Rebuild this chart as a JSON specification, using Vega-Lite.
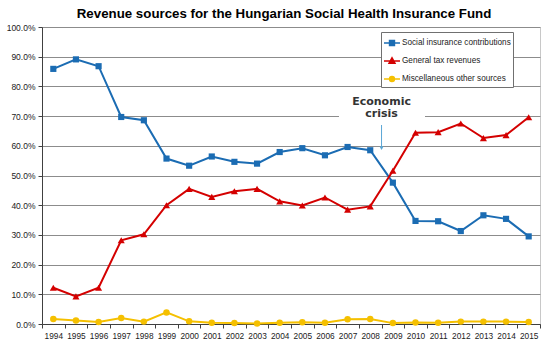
{
  "$schema": "https://vega.github.io/schema/vega-lite/v6.json",
  "width": 498,
  "height": 297,
  "autosize": "none",
  "padding": {"left": 42, "top": 27, "right": 10, "bottom": 26},
  "background": "white",
  "config": {
    "font": "Liberation Sans",
    "view": {"stroke": "#c8c8c8", "strokeWidth": 1}
  },
  "title": {
    "text": "Revenue sources for the Hungarian Social Health Insurance Fund",
    "font": "Liberation Sans",
    "fontSize": 13.3,
    "fontWeight": "bold",
    "color": "#000000",
    "anchor": "middle",
    "offset": 3,
    "dx": -7
  },
  "datasets": {
    "series": [
      {"year": 1994, "series": "Social insurance contributions", "value": 0.859},
      {"year": 1995, "series": "Social insurance contributions", "value": 0.891},
      {"year": 1996, "series": "Social insurance contributions", "value": 0.868},
      {"year": 1997, "series": "Social insurance contributions", "value": 0.697},
      {"year": 1998, "series": "Social insurance contributions", "value": 0.686},
      {"year": 1999, "series": "Social insurance contributions", "value": 0.557},
      {"year": 2000, "series": "Social insurance contributions", "value": 0.533},
      {"year": 2001, "series": "Social insurance contributions", "value": 0.564},
      {"year": 2002, "series": "Social insurance contributions", "value": 0.546},
      {"year": 2003, "series": "Social insurance contributions", "value": 0.540},
      {"year": 2004, "series": "Social insurance contributions", "value": 0.579},
      {"year": 2005, "series": "Social insurance contributions", "value": 0.592},
      {"year": 2006, "series": "Social insurance contributions", "value": 0.568},
      {"year": 2007, "series": "Social insurance contributions", "value": 0.596},
      {"year": 2008, "series": "Social insurance contributions", "value": 0.585},
      {"year": 2009, "series": "Social insurance contributions", "value": 0.476},
      {"year": 2010, "series": "Social insurance contributions", "value": 0.347},
      {"year": 2011, "series": "Social insurance contributions", "value": 0.346},
      {"year": 2012, "series": "Social insurance contributions", "value": 0.313},
      {"year": 2013, "series": "Social insurance contributions", "value": 0.366},
      {"year": 2014, "series": "Social insurance contributions", "value": 0.354},
      {"year": 2015, "series": "Social insurance contributions", "value": 0.295},
      {"year": 1994, "series": "General tax revenues", "value": 0.122},
      {"year": 1995, "series": "General tax revenues", "value": 0.093},
      {"year": 1996, "series": "General tax revenues", "value": 0.122},
      {"year": 1997, "series": "General tax revenues", "value": 0.282},
      {"year": 1998, "series": "General tax revenues", "value": 0.302},
      {"year": 1999, "series": "General tax revenues", "value": 0.400},
      {"year": 2000, "series": "General tax revenues", "value": 0.455},
      {"year": 2001, "series": "General tax revenues", "value": 0.428},
      {"year": 2002, "series": "General tax revenues", "value": 0.447},
      {"year": 2003, "series": "General tax revenues", "value": 0.455},
      {"year": 2004, "series": "General tax revenues", "value": 0.413},
      {"year": 2005, "series": "General tax revenues", "value": 0.399},
      {"year": 2006, "series": "General tax revenues", "value": 0.426},
      {"year": 2007, "series": "General tax revenues", "value": 0.385},
      {"year": 2008, "series": "General tax revenues", "value": 0.396},
      {"year": 2009, "series": "General tax revenues", "value": 0.516},
      {"year": 2010, "series": "General tax revenues", "value": 0.644},
      {"year": 2011, "series": "General tax revenues", "value": 0.646},
      {"year": 2012, "series": "General tax revenues", "value": 0.675},
      {"year": 2013, "series": "General tax revenues", "value": 0.626},
      {"year": 2014, "series": "General tax revenues", "value": 0.636},
      {"year": 2015, "series": "General tax revenues", "value": 0.696},
      {"year": 1994, "series": "Miscellaneous other sources", "value": 0.017},
      {"year": 1995, "series": "Miscellaneous other sources", "value": 0.012},
      {"year": 1996, "series": "Miscellaneous other sources", "value": 0.007},
      {"year": 1997, "series": "Miscellaneous other sources", "value": 0.020},
      {"year": 1998, "series": "Miscellaneous other sources", "value": 0.008},
      {"year": 1999, "series": "Miscellaneous other sources", "value": 0.039},
      {"year": 2000, "series": "Miscellaneous other sources", "value": 0.009},
      {"year": 2001, "series": "Miscellaneous other sources", "value": 0.004},
      {"year": 2002, "series": "Miscellaneous other sources", "value": 0.003},
      {"year": 2003, "series": "Miscellaneous other sources", "value": 0.002},
      {"year": 2004, "series": "Miscellaneous other sources", "value": 0.004},
      {"year": 2005, "series": "Miscellaneous other sources", "value": 0.006},
      {"year": 2006, "series": "Miscellaneous other sources", "value": 0.004},
      {"year": 2007, "series": "Miscellaneous other sources", "value": 0.016},
      {"year": 2008, "series": "Miscellaneous other sources", "value": 0.017},
      {"year": 2009, "series": "Miscellaneous other sources", "value": 0.003},
      {"year": 2010, "series": "Miscellaneous other sources", "value": 0.005},
      {"year": 2011, "series": "Miscellaneous other sources", "value": 0.004},
      {"year": 2012, "series": "Miscellaneous other sources", "value": 0.008},
      {"year": 2013, "series": "Miscellaneous other sources", "value": 0.008},
      {"year": 2014, "series": "Miscellaneous other sources", "value": 0.008},
      {"year": 2015, "series": "Miscellaneous other sources", "value": 0.007}
    ]
  },
  "encoding": {
    "x": {
      "field": "year",
      "type": "quantitative",
      "scale": {"domain": [1993.5, 2015.5], "nice": false, "zero": false},
      "axis": {
        "title": null,
        "values": [1993.5, 1994.5, 1995.5, 1996.5, 1997.5, 1998.5, 1999.5, 2000.5, 2001.5, 2002.5, 2003.5, 2004.5, 2005.5, 2006.5, 2007.5, 2008.5, 2009.5, 2010.5, 2011.5, 2012.5, 2013.5, 2014.5, 2015.5],
        "labelExpr": "datum.value > 2015 ? '' : format(datum.value + 0.5, 'd')",
        "labelOffset": 11.32,
        "labelFontSize": 8.3,
        "labelColor": "#222222",
        "labelPadding": 3,
        "tickSize": 4,
        "tickColor": "#404040",
        "domainColor": "#404040",
        "grid": false,
        "labelFlush": false,
        "labelOverlap": false,
        "labelBound": false
      }
    },
    "y": {
      "field": "value",
      "type": "quantitative",
      "scale": {"domain": [0, 1], "nice": false},
      "axis": {
        "title": null,
        "values": [0, 0.1, 0.2, 0.3, 0.4, 0.5, 0.6, 0.7, 0.8, 0.9, 1.0],
        "format": ".1%",
        "labelFontSize": 8.5,
        "labelColor": "#222222",
        "tickSize": 4,
        "tickColor": "#404040",
        "domainColor": "#404040",
        "gridColor": "#8c8c8c",
        "gridWidth": 1,
        "labelPadding": 3,
        "labelOverlap": false
      }
    }
  },
  "layer": [
    {
      "data": {"name": "series"},
      "mark": {"type": "line", "strokeWidth": 2},
      "encoding": {
        "color": {
          "field": "series",
          "type": "nominal",
          "scale": {
            "domain": ["Social insurance contributions", "General tax revenues", "Miscellaneous other sources"],
            "range": ["#1b6cb3", "#d40000", "#f5c000"]
          },
          "legend": {
            "title": null,
            "orient": "none",
            "legendX": 339,
            "legendY": 5,
            "fillColor": "white",
            "strokeColor": "#707070",
            "padding": 2,
            "labelFontSize": 8.2,
            "labelColor": "#222222",
            "labelOffset": 1,
            "rowPadding": 3,
            "symbolSize": 256,
            "symbolType": "stroke",
            "symbolStrokeWidth": 1.6,
            "labelLimit": 200,
            "encode": {
              "symbols": {
                "update": {
                  "shape": {"signal": "datum.value === 'Social insurance contributions' ? 'M-1,0H1M-0.3,-0.3H0.3V0.3H-0.3Z' : (datum.value === 'General tax revenues' ? 'M-1,0H1M0,-0.38L0.36,0.28H-0.36Z' : 'M-1,0H1M0.3,0A0.3,0.3,0,1,1,-0.3,0A0.3,0.3,0,1,1,0.3,0Z')"},
                  "fill": {"signal": "datum.value === 'Social insurance contributions' ? '#1b6cb3' : (datum.value === 'General tax revenues' ? '#d40000' : '#f5c000')"},
                  "stroke": {"signal": "datum.value === 'Social insurance contributions' ? '#1b6cb3' : (datum.value === 'General tax revenues' ? '#d40000' : '#f5c000')"},
                  "fillOpacity": {"value": 1}
                }
              }
            }
          }
        }
      }
    },
    {
      "data": {"name": "series"},
      "transform": [{"filter": "datum.series === 'Social insurance contributions'"}],
      "mark": {"type": "point", "shape": "square", "filled": true, "opacity": 1, "size": 38, "color": "#1b6cb3"}
    },
    {
      "data": {"name": "series"},
      "transform": [{"filter": "datum.series === 'General tax revenues'"}],
      "mark": {"type": "point", "shape": "triangle-up", "filled": true, "opacity": 1, "size": 50, "color": "#d40000"}
    },
    {
      "data": {"name": "series"},
      "transform": [{"filter": "datum.series === 'Miscellaneous other sources'"}],
      "mark": {"type": "point", "shape": "circle", "filled": true, "opacity": 1, "size": 42, "color": "#f5c000"}
    },
    {
      "data": {"values": [{"year": 2006.62, "year2": 2010.42, "value": 0.675, "value2": 0.78}]},
      "mark": {"type": "rect", "fill": "white"},
      "encoding": {
        "x2": {"field": "year2"},
        "y2": {"field": "value2"}
      }
    },
    {
      "data": {"values": [{"year": 2008.5, "value": 0.749, "label": "Economic"}, {"year": 2008.5, "value": 0.707, "label": "crisis"}]},
      "mark": {"type": "text", "font": "DejaVu Sans", "fontWeight": "bold", "fontSize": 11, "color": "#333333", "baseline": "middle", "align": "center"},
      "encoding": {
        "text": {"field": "label"}
      }
    },
    {
      "data": {"values": [{"year": 2008.5, "value": 0.67, "value2": 0.595}]},
      "mark": {"type": "rule", "color": "#5aa7d6", "strokeWidth": 1},
      "encoding": {
        "y2": {"field": "value2"}
      }
    },
    {
      "data": {"values": [{"year": 2008.5, "value": 0.592}]},
      "mark": {"type": "point", "shape": "triangle-down", "filled": true, "color": "#5aa7d6", "size": 16, "opacity": 1}
    }
  ]
}
